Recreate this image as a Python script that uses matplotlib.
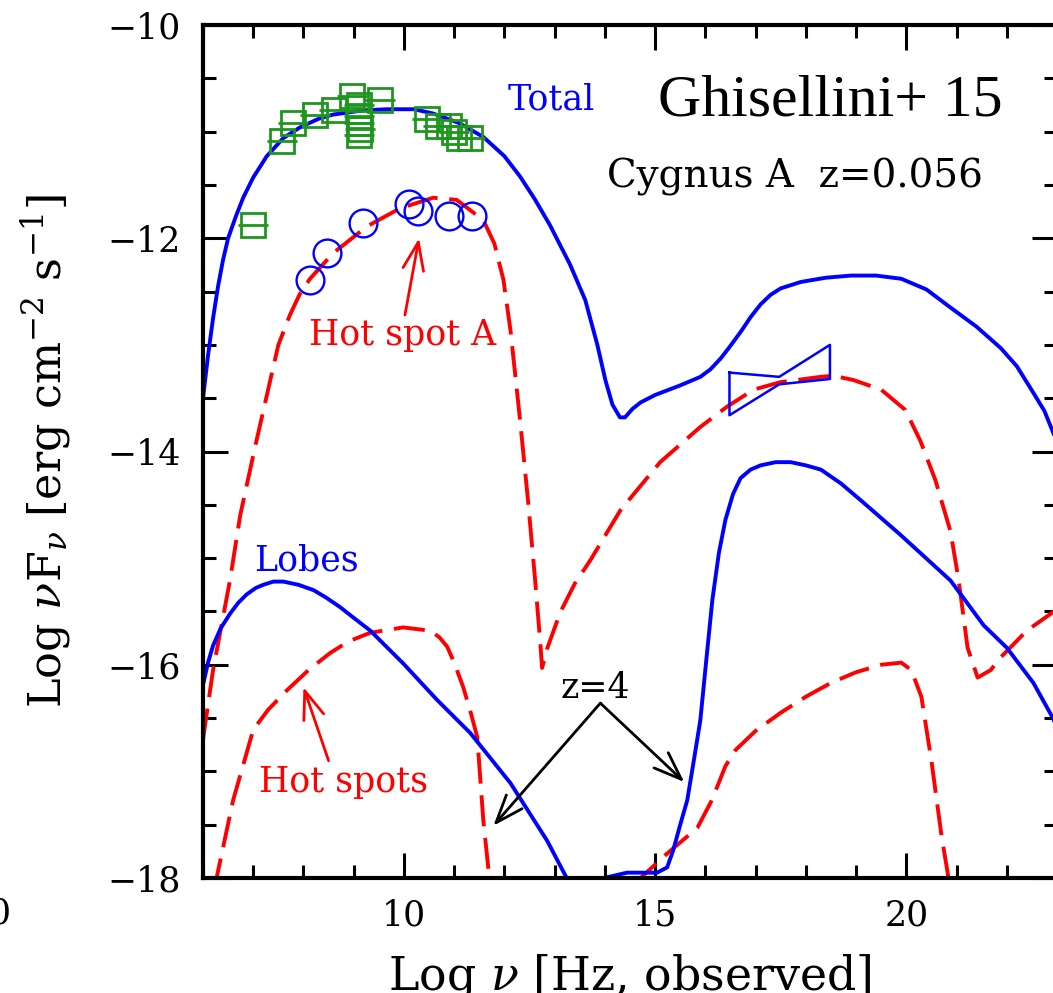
import numpy as np
import matplotlib.pyplot as plt
from matplotlib.ticker import MultipleLocator

plt.rcParams['font.family'] = ['DejaVu Serif']
plt.rcParams['mathtext.fontset'] = 'dejavuserif'

# total SED (blue, top)
tot_x = [6.0, 6.1, 6.2, 6.3, 6.4, 6.5, 6.65, 6.8, 7.0, 7.27, 7.6, 7.93, 8.3, 8.59, 9.2, 9.66, 10.2,
         10.58, 11.1, 11.58, 12.0, 12.31, 12.6, 12.91, 13.31, 13.61, 13.85, 14.01, 14.15, 14.3, 14.4,
         14.55, 14.71, 15.0, 15.5, 15.9, 16.1, 16.3, 16.45, 16.56, 16.73, 16.9, 17.1, 17.3, 17.5,
         17.9, 18.4, 18.9, 19.4, 19.9, 20.4, 20.88, 21.4, 21.88, 22.2, 22.53, 22.75, 22.93, 23.0]
tot_y = [-13.5, -13.1, -12.75, -12.45, -12.2, -12.0, -11.8, -11.62, -11.43, -11.23, -11.06, -10.96,
         -10.88, -10.84, -10.8, -10.79, -10.79, -10.83, -10.92, -11.05, -11.23, -11.42, -11.63,
         -11.88, -12.25, -12.58, -13.0, -13.33, -13.56, -13.68, -13.68, -13.6, -13.54, -13.47,
         -13.38, -13.3, -13.23, -13.13, -13.04, -12.97, -12.86, -12.74, -12.62, -12.53, -12.47,
         -12.41, -12.37, -12.35, -12.35, -12.38, -12.48, -12.65, -12.83, -13.03, -13.2, -13.45,
         -13.62, -13.83, -13.9]

# hot spot A model (red dashed, top)
hsa_x = [6.0, 6.2, 6.4, 6.54, 6.74, 7.04, 7.33, 7.5, 7.73, 7.93, 8.13, 8.59, 9.26, 9.92, 10.58,
         11.05, 11.58, 11.8, 11.98, 12.12, 12.31, 12.47, 12.61, 12.71, 12.75, 12.85, 13.11, 13.4,
         13.71, 14.31, 15.1, 15.9, 16.43, 16.96, 17.49, 18.29, 18.55, 18.95, 19.5, 19.98, 20.28,
         20.58, 20.88, 21.04, 21.22, 21.42, 21.68, 21.88, 22.4, 23.0]
hsa_y = [-16.7, -16.05, -15.55, -15.2, -14.6, -13.95, -13.35, -13.0, -12.72, -12.52, -12.38,
         -12.14, -11.89, -11.72, -11.62, -11.64, -11.83, -12.05, -12.39, -12.86, -13.7, -14.46,
         -15.2, -15.77, -16.03, -15.85, -15.51, -15.24, -15.02, -14.55, -14.1, -13.77, -13.58,
         -13.42, -13.35, -13.3, -13.29, -13.33, -13.42, -13.61, -13.9, -14.27, -14.75, -15.2,
         -15.84, -16.12, -16.05, -15.93, -15.68, -15.48]

# lobes, and the same source at z=4 (blue, bottom)
lob_x = [6.0, 6.1, 6.2, 6.35, 6.54, 6.7, 6.87, 7.05, 7.2, 7.4, 7.6, 7.9, 8.2, 8.45, 8.73, 9.0, 9.33,
         9.99, 10.66, 11.32, 12.12, 12.85, 13.24, 13.5, 13.8, 13.98, 14.44, 15.04, 15.24, 15.36,
         15.5, 15.64, 15.77, 15.9, 16.02, 16.14, 16.27, 16.4, 16.55, 16.7, 16.9, 17.1, 17.4, 17.7,
         18.0, 18.3, 18.7, 19.1, 19.88, 20.88, 21.54, 22.0, 22.53, 22.93, 23.0]
lob_y = [-16.19, -15.98, -15.82, -15.66, -15.52, -15.42, -15.34, -15.28, -15.25, -15.22, -15.22,
         -15.25, -15.3, -15.37, -15.46, -15.56, -15.68, -15.99, -16.33, -16.64, -17.11, -17.65,
         -18.0, -18.2, -18.2, -18.0, -17.95, -17.95, -17.9, -17.74, -17.5, -17.27, -16.9, -16.52,
         -15.95, -15.39, -14.95, -14.64, -14.4, -14.25, -14.17, -14.13, -14.1, -14.1, -14.13,
         -14.17, -14.3, -14.46, -14.78, -15.21, -15.63, -15.84, -16.17, -16.51, -16.6]

# hot spots at z=4 (red dashed, bottom)
hs4_x = [6.1, 6.27, 6.6, 7.0, 7.3, 7.67, 8.1, 8.53, 8.9, 9.33, 9.98, 10.52, 10.7, 10.86, 11.0,
         11.18, 11.33, 11.46, 11.58, 11.7, 11.8, 14.6, 14.71, 15.24, 15.84, 16.13, 16.4, 16.6,
         17.0, 17.5, 18.0, 18.5, 19.0, 19.5, 19.9, 20.1, 20.3, 20.5, 20.7, 20.84, 20.95]
hs4_y = [-18.5, -18.0, -17.27, -16.61, -16.42, -16.24, -16.05, -15.89, -15.78, -15.7, -15.65,
         -15.68, -15.74, -15.83, -15.98, -16.21, -16.45, -16.68, -17.46, -18.0, -18.6, -18.6,
         -18.0, -17.77, -17.53, -17.27, -16.95, -16.8, -16.62, -16.45, -16.3, -16.17, -16.07,
         -16.0, -15.98, -16.05, -16.3, -16.9, -17.6, -18.0, -18.5]

# radio data of the whole source (green squares)
sq_x = [6.99, 7.57, 7.80, 8.23, 8.60, 8.96, 9.11, 9.53, 9.11, 9.11, 9.13, 9.11,
        10.46, 10.67, 10.89, 10.99, 11.10, 11.32]
sq_y = [-11.88, -11.09, -10.92, -10.84, -10.80, -10.67, -10.75, -10.70, -10.85, -10.92, -10.98, -11.03,
        -10.88, -10.95, -10.95, -11.00, -11.06, -11.06]
sq_dx = 0.3

# hot spot A data (blue circles)
hs_x = [8.13, 8.46, 9.19, 10.10, 10.27, 10.89, 11.35]
hs_y = [-12.39, -12.14, -11.86, -11.68, -11.74, -11.79, -11.79]

# X-ray bow tie
bow_x = [16.48, 17.47, 18.48, 18.48, 17.47, 16.48, 16.48]
bow_y = [-13.26, -13.30, -13.00, -13.32, -13.37, -13.66, -13.26]

fig = plt.figure(figsize=(10.53, 9.93), dpi=100)
ax = fig.add_axes([203/1053, 1-878/993, (1057-203)/1053, (878-25)/993])

dash = (8, 3)
ax.plot(hsa_x, hsa_y, color='red', lw=2.8, dashes=dash)
ax.plot(hs4_x, hs4_y, color='red', lw=2.8, dashes=dash)
ax.plot(tot_x, tot_y, color='blue', lw=2.8)
ax.plot(lob_x, lob_y, color='blue', lw=2.8)
ax.plot(bow_x, bow_y, color='blue', lw=1.8)

ax.errorbar(sq_x, sq_y, xerr=sq_dx, fmt='s', mfc='none', mec='#1e961e', ecolor='#1e961e',
            ms=17.5, mew=2.0, elinewidth=2.0, capsize=0)
ax.plot(hs_x, hs_y, 'o', mfc='none', mec='blue', ms=20, mew=1.7)

ax.set_xlim(6, 23)
ax.set_ylim(-18, -10)
ax.set_xticks([10, 15, 20])
ax.set_yticks([-18, -16, -14, -12, -10])
ax.xaxis.set_minor_locator(MultipleLocator(1))
ax.yaxis.set_minor_locator(MultipleLocator(0.5))
ax.tick_params(which='both', direction='in', top=True, right=True, width=2.2, labelsize=25)
ax.tick_params(which='major', length=18)
ax.tick_params(which='minor', length=9.5)
ax.tick_params(axis='x', pad=15)
ax.tick_params(axis='y', pad=16)
for s in ax.spines.values():
    s.set_linewidth(3)

fig.text(630/1053, 1-990/993, r'Log $\nu$ [Hz, observed]', ha='center', va='baseline', fontsize=33)
fig.text(46/1053, 1-451/993, r'Log $\nu$F$_\nu$ [erg cm$^{-2}$ s$^{-1}$]', rotation=90,
         ha='center', va='center', fontsize=32)
fig.text(0.0, 1-913/993, '0', ha='center', va='center', fontsize=25)

# labels
ax.text(12.93, -10.70, 'Total', color='blue', fontsize=25, ha='center', va='center')
ax.text(8.05, -15.02, 'Lobes', color='blue', fontsize=25, ha='center', va='center')
ax.text(9.98, -12.91, 'Hot spot A', color='red', fontsize=25, ha='center', va='center')
ax.text(8.79, -17.10, 'Hot spots', color='red', fontsize=25, ha='center', va='center')
ax.text(13.81, -16.22, 'z=4', color='black', fontsize=25, ha='center', va='center')
ax.text(18.49, -10.72, 'Ghisellini+ 15', fontsize=43, ha='center', va='center', family='Liberation Serif')
ax.text(17.79, -11.43, 'Cygnus A  z=0.056', fontsize=28, ha='center', va='center')

arr = '->,head_length=0.8,head_width=0.3'
ax.annotate('', xy=(10.30, -12.0), xytext=(10.02, -12.72),
            arrowprops=dict(arrowstyle=arr, color='red', lw=2, mutation_scale=25, shrinkA=0, shrinkB=0))
ax.annotate('', xy=(8.0, -16.21), xytext=(8.50, -16.9),
            arrowprops=dict(arrowstyle=arr, color='red', lw=2, mutation_scale=25, shrinkA=0, shrinkB=0))
ax.annotate('', xy=(11.78, -17.51), xytext=(13.91, -16.36),
            arrowprops=dict(arrowstyle=arr, color='black', lw=2, mutation_scale=25, shrinkA=0, shrinkB=0))
ax.annotate('', xy=(15.58, -17.10), xytext=(13.91, -16.36),
            arrowprops=dict(arrowstyle=arr, color='black', lw=2, mutation_scale=25, shrinkA=0, shrinkB=0))

plt.savefig('out.png', dpi=100)
